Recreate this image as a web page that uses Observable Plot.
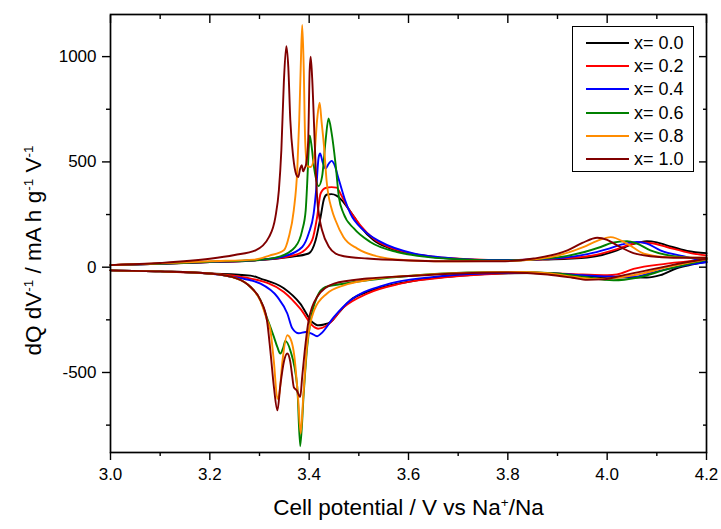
<!DOCTYPE html>
<html>
<head>
<meta charset="utf-8">
<script src="https://cdn.jsdelivr.net/npm/d3@7"></script>
<script src="https://cdn.jsdelivr.net/npm/@observablehq/plot@0.6"></script>
<style>
  html, body { margin: 0; padding: 0; background: #fff; }
  #wrap { position: relative; width: 721px; height: 529px; font-family: "Liberation Sans", Arial, sans-serif; }
  #legend { position: absolute; left: 572px; top: 26px; width: 122px; height: 146px; border: 1px solid #000; background: #fff; box-sizing: border-box; }
  .row { position: absolute; left: 0; height: 20px; width: 100%; }
  .swatch { position: absolute; left: 13px; top: 9px; width: 43px; height: 2px; }
  .lab { position: absolute; left: 61px; top: 0px; font-size: 18px; line-height: 20px; white-space: nowrap; color: #000; }
</style>
</head>
<body>
<div id="wrap"></div>
<script>
// ---- Data (cell potential V, dQ/dV in mA h g^-1 V^-1) ----
const seriesLabels = ["x= 0.0", "x= 0.2", "x= 0.4", "x= 0.6", "x= 0.8", "x= 1.0"];

// charge branches (positive dQ/dV)
const chg00 = [[3.00,10],[3.10,16],[3.20,24],[3.29,32],[3.36,48],[3.399,65],[3.413,128],[3.423,238],[3.43,326],[3.436,345],[3.445,347],[3.455,340],[3.465,320],[3.475,290],[3.49,240],[3.505,188],[3.53,128],[3.56,92],[3.60,66],[3.65,48],[3.72,36],[3.80,32],[3.87,36],[3.92,40],[3.96,46],[3.99,58],[4.02,80],[4.05,108],[4.08,124],[4.10,118],[4.12,104],[4.161,77],[4.20,67]];
const chg02 = [[3.00,10],[3.10,16],[3.20,24],[3.29,33],[3.36,52],[3.386,72],[3.406,128],[3.416,238],[3.423,350],[3.433,376],[3.445,380],[3.455,378],[3.465,340],[3.477,286],[3.49,240],[3.503,199],[3.53,135],[3.56,96],[3.60,68],[3.65,50],[3.72,38],[3.80,33],[3.87,38],[3.93,44],[3.98,60],[4.02,86],[4.05,110],[4.067,118],[4.09,114],[4.12,96],[4.168,67],[4.20,56]];
const chg04 = [[3.00,10],[3.10,16],[3.20,25],[3.29,33],[3.35,52],[3.386,96],[3.399,160],[3.409,254],[3.414,365],[3.419,520],[3.422,540],[3.427,500],[3.433,468],[3.439,490],[3.445,505],[3.452,480],[3.458,430],[3.463,390],[3.472,320],[3.483,254],[3.51,175],[3.544,120],[3.61,65],[3.68,44],[3.76,34],[3.84,36],[3.91,44],[3.96,62],[4.00,86],[4.03,108],[4.06,120],[4.08,112],[4.107,80],[4.161,48],[4.20,25]];
const chg06 = [[3.00,10],[3.10,16],[3.20,26],[3.29,33],[3.34,50],[3.372,96],[3.386,175],[3.393,270],[3.396,397],[3.399,555],[3.401,626],[3.404,590],[3.41,470],[3.419,385],[3.426,430],[3.433,600],[3.439,706],[3.445,640],[3.453,493],[3.46,330],[3.469,256],[3.49,184],[3.523,120],[3.577,72],[3.64,48],[3.72,36],[3.80,32],[3.87,40],[3.92,54],[3.987,96],[4.01,116],[4.04,124],[4.06,112],[4.087,80],[4.13,54],[4.20,41]];
const chg08 = [[3.00,10],[3.10,18],[3.20,28],[3.29,36],[3.32,55],[3.349,80],[3.359,143],[3.369,270],[3.376,460],[3.38,700],[3.383,950],[3.386,1150],[3.389,950],[3.392,600],[3.396,480],[3.403,476],[3.41,520],[3.416,700],[3.421,781],[3.425,690],[3.43,571],[3.435,413],[3.446,270],[3.453,223],[3.469,143],[3.497,88],[3.544,48],[3.61,32],[3.70,28],[3.80,30],[3.886,48],[3.953,96],[3.98,125],[4.007,143],[4.04,112],[4.074,64],[4.12,48],[4.20,45]];
const chg10 = [[3.00,10],[3.10,20],[3.20,40],[3.25,58],[3.292,80],[3.319,143],[3.332,238],[3.339,365],[3.344,555],[3.349,877],[3.354,1050],[3.358,950],[3.362,700],[3.368,520],[3.374,440],[3.378,428],[3.382,470],[3.385,484],[3.388,455],[3.391,470],[3.394,492],[3.398,600],[3.401,935],[3.403,1000],[3.406,900],[3.41,666],[3.413,480],[3.416,333],[3.421,230],[3.426,175],[3.44,96],[3.453,65],[3.47,52],[3.517,41],[3.60,32],[3.70,28],[3.785,28],[3.852,41],[3.92,80],[3.95,115],[3.98,140],[4.00,130],[4.02,104],[4.053,67],[4.087,52],[4.134,45],[4.20,45]];

// discharge branches (negative dQ/dV)
const dis00 = [[3.00,-15],[3.10,-20],[3.20,-30],[3.282,-40],[3.302,-54],[3.349,-100],[3.382,-173],[3.406,-260],[3.419,-276],[3.43,-272],[3.443,-260],[3.46,-215],[3.483,-157],[3.52,-115],[3.55,-94],[3.617,-62],[3.718,-38],[3.785,-30],[3.85,-28],[3.95,-40],[4.00,-48],[4.08,-49],[4.107,-38],[4.14,-5],[4.17,12],[4.20,25]];
const dis02 = [[3.00,-15],[3.10,-20],[3.20,-30],[3.26,-45],[3.282,-54],[3.349,-118],[3.382,-197],[3.41,-284],[3.418,-292],[3.436,-276],[3.47,-189],[3.517,-125],[3.584,-78],[3.685,-46],[3.785,-30],[3.85,-26],[3.95,-35],[4.00,-38],[4.02,-34],[4.053,-8],[4.12,17],[4.20,36]];
const dis04 = [[3.00,-15],[3.10,-20],[3.20,-30],[3.25,-48],[3.282,-62],[3.302,-78],[3.336,-141],[3.356,-220],[3.366,-290],[3.379,-314],[3.393,-308],[3.405,-315],[3.416,-328],[3.424,-315],[3.45,-236],[3.483,-157],[3.55,-86],[3.651,-46],[3.75,-30],[3.85,-26],[3.95,-38],[4.00,-44],[4.053,-46],[4.087,-28],[4.12,-10],[4.16,10],[4.20,23]];
const dis06 = [[3.00,-15],[3.10,-20],[3.20,-30],[3.255,-54],[3.282,-94],[3.302,-157],[3.315,-240],[3.329,-331],[3.336,-380],[3.342,-410],[3.348,-380],[3.352,-350],[3.362,-395],[3.376,-569],[3.382,-850],[3.389,-600],[3.396,-379],[3.403,-252],[3.416,-141],[3.433,-94],[3.466,-80],[3.517,-62],[3.617,-38],[3.72,-25],[3.82,-22],[3.90,-30],[3.95,-45],[4.013,-62],[4.06,-50],[4.12,-10],[4.20,35]];
const dis08 = [[3.00,-15],[3.10,-20],[3.20,-30],[3.255,-54],[3.282,-94],[3.302,-160],[3.315,-250],[3.322,-300],[3.329,-450],[3.336,-625],[3.34,-600],[3.346,-450],[3.356,-323],[3.364,-350],[3.37,-420],[3.378,-632],[3.383,-790],[3.388,-620],[3.396,-363],[3.41,-205],[3.436,-125],[3.47,-86],[3.52,-60],[3.62,-38],[3.72,-26],[3.82,-22],[3.88,-28],[3.93,-45],[3.973,-56],[4.02,-50],[4.07,-30],[4.12,0],[4.20,38]];
const dis10 = [[3.00,-15],[3.10,-20],[3.20,-30],[3.255,-54],[3.282,-94],[3.302,-157],[3.315,-252],[3.322,-400],[3.329,-569],[3.336,-680],[3.342,-560],[3.349,-450],[3.356,-410],[3.362,-450],[3.366,-520],[3.369,-569],[3.375,-585],[3.382,-616],[3.386,-520],[3.391,-400],[3.399,-252],[3.416,-141],[3.45,-78],[3.517,-54],[3.60,-42],[3.70,-30],[3.80,-25],[3.88,-35],[3.93,-50],[3.96,-60],[3.99,-58],[4.03,-40],[4.08,-15],[4.13,10],[4.20,40]];

// axis ticks
const xMajorTicks = [3.0, 3.2, 3.4, 3.6, 3.8, 4.0, 4.2];
const xMinorTicks = [3.1, 3.3, 3.5, 3.7, 3.9, 4.1];
const yMajorTicks = [-500, 0, 500, 1000];
const yMinorTicks = [-750, -250, 250, 750];

const xTitle = "Cell potential / V vs Na+/Na";
const yTitle = "dQ dV-1 / mA h g-1 V-1";

// ---- styles ----
const palette = ["#000000", "#ff0000", "#0000ff", "#008000", "#ff8c00", "#800000"];

const chargeSets = [chg00, chg02, chg04, chg06, chg08, chg10];
const dischargeSets = [dis00, dis02, dis04, dis06, dis08, dis10];

const rows = [];
seriesLabels.forEach((lab, i) => {
  dischargeSets[i].forEach(([v, q]) => rows.push({series: lab, branch: lab + " dis", v, q}));
  chargeSets[i].forEach(([v, q]) => rows.push({series: lab, branch: lab + " chg", v, q}));
});

const chart = Plot.plot({
  width: 721,
  height: 529,
  marginLeft: 110,
  marginRight: 15,
  marginTop: 14,
  marginBottom: 77,
  style: {fontFamily: "'Liberation Sans', Arial, sans-serif", fontSize: "17px", color: "#000", background: "#fff"},
  x: {domain: [3.0, 4.2]},
  y: {domain: [-880, 1200]},
  color: {domain: seriesLabels, range: palette},
  marks: [
    Plot.line(rows, {x: "v", y: "q", z: "branch", stroke: "series", strokeWidth: 1.9, curve: "monotone-x"}),
    Plot.frame({stroke: "#000", strokeWidth: 1.7}),
    Plot.axisX(xMajorTicks, {anchor: "bottom", tickSize: 8, tickPadding: 7, strokeWidth: 1.4, tickFormat: d3.format(".1f"), label: null, fontSize: 17}),
    Plot.axisX(xMinorTicks, {anchor: "bottom", tickSize: 4, strokeWidth: 1.4, tickFormat: () => "", label: null}),
    Plot.axisX(xMajorTicks, {anchor: "top", tickSize: -8, strokeWidth: 1.4, tickFormat: () => "", label: null}),
    Plot.axisX(xMinorTicks, {anchor: "top", tickSize: -4, strokeWidth: 1.4, tickFormat: () => "", label: null}),
    Plot.axisY(yMajorTicks, {anchor: "left", tickSize: 8, tickPadding: 6, strokeWidth: 1.4, tickFormat: d => String(d), label: null, fontSize: 17}),
    Plot.axisY(yMinorTicks, {anchor: "left", tickSize: 4, strokeWidth: 1.4, tickFormat: () => "", label: null}),
    Plot.axisY(yMajorTicks, {anchor: "right", tickSize: -8, strokeWidth: 1.4, tickFormat: () => "", label: null}),
    Plot.axisY(yMinorTicks, {anchor: "right", tickSize: -4, strokeWidth: 1.4, tickFormat: () => "", label: null}),
    Plot.text([xTitle], {frameAnchor: "bottom", dy: 62, fontSize: 22.5, textAnchor: "middle", className: "xtitle"}),
    Plot.text([yTitle], {frameAnchor: "left", rotate: -90, dx: -77, dy: 17, fontSize: 22.5, textAnchor: "middle", className: "ytitle"})
  ]
});

// superscripts as real text
function superscriptify(sel, parts) {
  const t = chart.querySelector(sel + " text");
  if (!t) return;
  while (t.firstChild) t.removeChild(t.firstChild);
  const ns = "http://www.w3.org/2000/svg";
  let shifted = false;
  for (const [s, sup] of parts) {
    const ts = document.createElementNS(ns, "tspan");
    ts.textContent = s;
    if (sup) { ts.setAttribute("dy", "-8"); ts.setAttribute("font-size", "13.5"); shifted = true; }
    else if (shifted) { ts.setAttribute("dy", "8"); shifted = false; }
    t.appendChild(ts);
  }
}
superscriptify(".xtitle", [["Cell potential / V vs Na", false], ["+", true], ["/Na", false]]);
superscriptify(".ytitle", [["dQ dV", false], ["-1", true], [" / mA h g", false], ["-1", true], [" V", false], ["-1", true]]);

const wrap = document.getElementById("wrap");
wrap.appendChild(chart);

// legend
const legend = document.createElement("div");
legend.id = "legend";
seriesLabels.forEach((lab, i) => {
  const row = document.createElement("div");
  row.className = "row";
  row.style.top = (6 + i * 23.2) + "px";
  const sw = document.createElement("div");
  sw.className = "swatch";
  sw.style.background = palette[i];
  const tx = document.createElement("div");
  tx.className = "lab";
  tx.textContent = lab;
  row.appendChild(sw);
  row.appendChild(tx);
  legend.appendChild(row);
});
wrap.appendChild(legend);
</script>
</body>
</html>
